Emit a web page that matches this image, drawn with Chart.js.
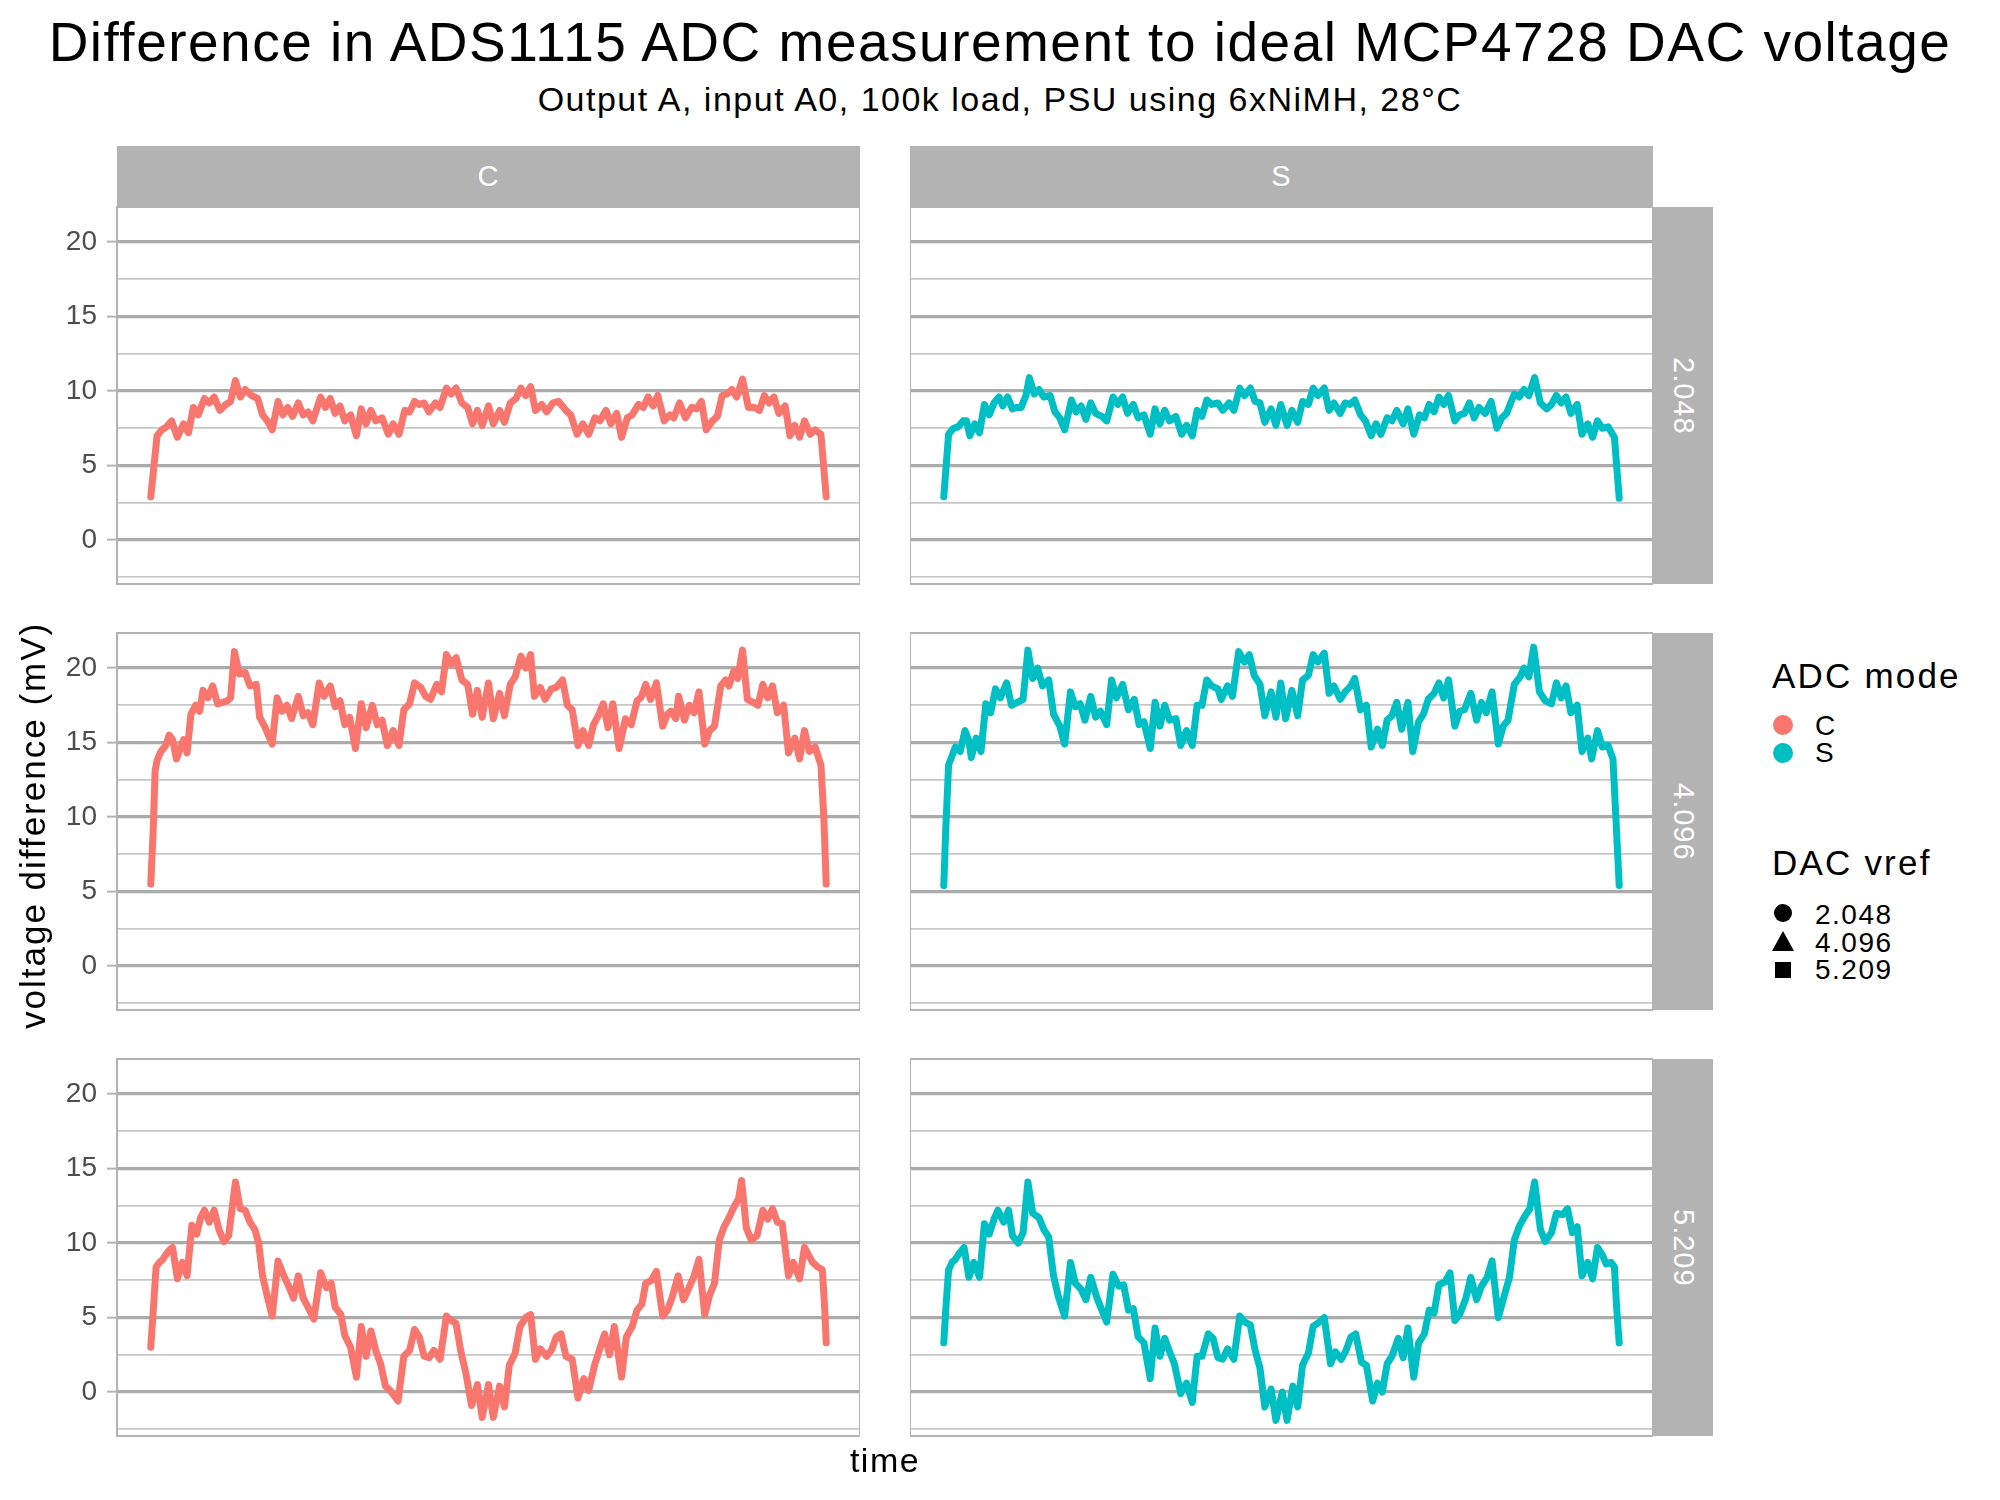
<!DOCTYPE html>
<html>
<head>
<meta charset="utf-8">
<script src="https://cdn.jsdelivr.net/npm/chart.js@4.4.1/dist/chart.umd.min.js"></script>
<style>
  html, body { margin: 0; padding: 0; background: #fff; }
  body { width: 2000px; height: 1500px; position: relative; overflow: hidden;
         font-family: 'Liberation Sans', Arial, sans-serif; color: #000; }
  .txt { position: absolute; white-space: nowrap; line-height: 1; }
  .strip { position: absolute; background: #b3b3b3; color: #fff; font-size: 29px; letter-spacing: 1px;
           display: flex; align-items: center; justify-content: center; }
  .vstrip { writing-mode: vertical-rl; }
  canvas { position: absolute; }
  .key { position: absolute; width: 24px; height: 24px; }
  .lab { font-size: 28px; letter-spacing: 1.5px; }
  .ltitle { font-size: 35px; letter-spacing: 2.2px; }
</style>
</head>
<body>
<div class="txt" style="left:0;width:2000px;text-align:center;top:15px;font-size:55px;letter-spacing:1.5px;">Difference in ADS1115 ADC measurement to ideal MCP4728 DAC voltage</div>
<div class="txt" style="left:0;width:2000px;text-align:center;top:82px;font-size:34px;letter-spacing:1.5px;">Output A, input A0, 100k load, PSU using 6xNiMH, 28°C</div>

<div class="strip" style="left:117px;top:146px;width:743px;height:61px;">C</div>
<div class="strip" style="left:910px;top:146px;width:743px;height:61px;">S</div>
<div class="strip vstrip" style="left:1653px;top:207px;width:60px;height:377px;">2.048</div>
<div class="strip vstrip" style="left:1653px;top:633px;width:60px;height:377px;">4.096</div>
<div class="strip vstrip" style="left:1653px;top:1059px;width:60px;height:377px;">5.209</div>

<canvas id="c2048" width="860" height="467" style="left:0;top:162px;"></canvas>
<canvas id="s2048" width="743" height="467" style="left:910px;top:162px;"></canvas>
<canvas id="c4096" width="860" height="467" style="left:0;top:588px;"></canvas>
<canvas id="s4096" width="743" height="467" style="left:910px;top:588px;"></canvas>
<canvas id="c5209" width="860" height="467" style="left:0;top:1014px;"></canvas>
<canvas id="s5209" width="743" height="467" style="left:910px;top:1014px;"></canvas>

<div class="txt" style="left:0;width:66px;top:420px;height:810px;font-size:35px;letter-spacing:2px;writing-mode:vertical-rl;transform:rotate(180deg);display:flex;align-items:center;justify-content:center;">voltage difference (mV)</div>
<div class="txt" style="left:117px;width:1536px;text-align:center;top:1443px;font-size:34px;letter-spacing:1.5px;">time</div>

<div class="txt ltitle" style="left:1772px;top:658px;">ADC mode</div>
<svg class="key" style="left:1771px;top:713px;"><circle cx="12" cy="12" r="10" fill="#F8766D"/></svg>
<div class="txt lab" style="left:1815px;top:712px;">C</div>
<svg class="key" style="left:1771px;top:741px;"><circle cx="12" cy="12" r="10" fill="#00BFC4"/></svg>
<div class="txt lab" style="left:1815px;top:739px;">S</div>

<div class="txt ltitle" style="left:1772px;top:845px;">DAC vref</div>
<svg class="key" style="left:1771px;top:901px;"><circle cx="12" cy="12" r="9" fill="#000"/></svg>
<div class="txt lab" style="left:1815px;top:901px;">2.048</div>
<svg class="key" style="left:1771px;top:930px;"><polygon points="12,1 23,21 1,21" fill="#000"/></svg>
<div class="txt lab" style="left:1815px;top:929px;">4.096</div>
<svg class="key" style="left:1771px;top:958px;"><rect x="4" y="4" width="16" height="16" fill="#000"/></svg>
<div class="txt lab" style="left:1815px;top:956px;">5.209</div>

<script>
// ADC mode C, DAC vref 2.048
const tC2048 = [67,80,90,100,110,122,135,145,155,165,
  178,188,198,210,222,232,242,252,262,275,
  288,298,308,318,330,340,350,360,372,382,
  392,402,418,428,438,448,458,468,480,492,
  502,512,522,532,545,558,568,580,592,602,
  612,622,632,642,655,665,678,688,698,710,
  722,732,742,752,765,775,788,798,810,822,
  832,842,852,862,875,885,898,910,925,935,
  948,960,972,985,995,1008,1018,1030,1040,1052,
  1062,1075,1085,1095,1105,1115,1128,1140,1148,1160,
  1172,1185,1195,1205,1215,1228,1238,1248,1258,1268,
  1278,1290,1302,1315,1325,1335,1345,1355,1365,1378,
  1388,1398,1408,1418,1430,1440,1452,1463];
const vC2048 = [2.9,7.0,7.4,7.6,8.0,6.9,7.8,7.2,8.9,8.4,
  9.5,9.2,9.6,8.7,9.1,9.3,10.7,9.6,10.1,9.7,
  9.5,8.4,8.0,7.4,9.3,8.4,8.9,8.3,9.2,8.4,
  8.6,8.0,9.6,8.9,9.5,8.5,9.0,8.0,8.4,7.0,
  8.8,7.8,8.7,8.0,8.2,7.1,7.8,7.1,8.7,8.6,
  9.3,9.1,9.2,8.6,9.2,8.9,10.2,9.8,10.2,9.2,
  8.9,7.8,8.7,7.7,9.0,7.8,8.7,7.9,9.2,9.5,
  10.2,9.7,10.3,8.7,9.1,8.6,9.2,9.3,8.7,8.4,
  7.1,7.8,7.1,8.2,8.0,8.7,7.8,8.5,6.9,8.2,
  8.4,9.1,8.9,9.6,9.0,9.7,8.0,8.4,8.2,9.2,
  8.2,8.9,8.8,9.3,7.4,8.0,8.3,9.7,9.8,10.1,
  9.6,10.8,8.9,8.9,8.7,9.7,9.2,9.6,8.5,9.0,
  7.0,7.7,6.9,8.0,7.1,7.4,7.1,2.9];

// ADC mode C, DAC vref 4.096
const tC4096 = [67,72,76,80,88,98,105,112,120,128,
  135,142,150,160,168,175,185,195,205,215,
  225,232,240,250,262,272,285,292,302,318,
  328,338,348,358,372,382,392,402,415,425,
  438,448,458,468,478,490,502,512,525,535,
  545,556,568,580,590,602,612,625,635,645,
  658,668,678,688,698,710,722,732,742,752,
  765,775,788,798,810,820,832,842,852,860,
  872,882,895,905,918,928,938,950,960,972,
  982,992,1002,1012,1022,1035,1048,1060,1072,1080,
  1090,1100,1112,1125,1135,1142,1152,1158,1170,1180,
  1190,1200,1212,1222,1232,1245,1255,1262,1272,1280,
  1290,1300,1312,1322,1332,1342,1352,1362,1375,1385,
  1398,1408,1418,1428,1440,1452,1458,1463];
const vC4096 = [5.5,9.1,13.1,13.8,14.4,14.8,15.5,15.2,13.9,14.6,
  15.2,14.3,16.9,17.5,17.1,18.5,18.0,18.8,17.6,17.7,
  17.8,18.0,21.1,19.6,19.7,18.8,18.9,16.7,16.1,14.9,
  18.0,17.1,17.5,16.6,18.1,16.8,17.0,16.2,19.0,18.1,
  18.8,17.4,17.8,16.2,16.7,14.6,17.6,16.0,17.5,16.2,
  16.5,14.8,15.8,14.8,17.2,17.6,19.0,18.7,18.1,17.9,
  18.9,18.4,20.9,20.3,20.7,19.2,18.9,16.9,18.5,16.7,
  19.0,16.6,18.3,16.8,18.9,19.4,20.8,20.0,20.9,18.1,
  18.7,17.9,18.6,18.7,19.2,17.5,17.2,14.8,15.8,14.8,
  16.2,16.8,17.6,16.0,17.6,14.6,16.6,16.2,17.8,18.0,
  18.9,17.9,19.0,16.1,16.9,17.1,16.6,18.1,16.5,17.5,
  17.0,18.4,14.9,15.8,16.1,18.8,19.2,18.8,19.8,19.3,
  21.2,17.9,17.7,17.5,18.9,18.0,18.8,17.0,17.5,14.3,
  15.3,13.9,15.8,14.4,14.7,13.5,10.0,5.5];

// ADC mode C, DAC vref 5.209
const tC5209 = [67,72,78,85,92,98,105,112,122,132,
  142,152,162,170,178,188,198,208,218,228,
  242,252,262,272,282,290,298,308,318,330,
  342,352,362,372,382,392,404,418,430,440,
  448,460,468,480,492,502,512,522,532,542,
  552,562,578,590,602,612,622,632,642,652,
  665,678,688,698,708,718,730,742,752,765,
  775,788,798,808,820,830,842,852,862,872,
  885,895,905,915,925,938,950,962,972,985,
  995,1005,1015,1025,1040,1050,1062,1072,1082,1090,
  1102,1112,1125,1135,1145,1157,1168,1178,1190,1200,
  1212,1222,1232,1242,1252,1262,1272,1282,1288,1298,
  1308,1320,1332,1342,1352,1362,1372,1385,1395,1408,
  1418,1428,1435,1445,1455,1460,1463];
const vC5209 = [3.0,5.4,8.4,8.7,8.9,9.2,9.5,9.7,7.6,8.7,
  7.8,11.2,10.6,11.7,12.2,11.4,12.2,10.9,10.1,10.5,
  14.1,12.3,12.2,11.4,10.9,10.0,7.8,6.4,5.1,8.8,
  7.8,7.1,6.3,7.8,6.3,5.7,4.9,8.0,7.0,7.3,
  5.7,5.2,3.8,3.0,1.0,4.4,2.4,4.1,2.8,1.9,
  0.4,0.1,-0.6,2.4,2.8,4.2,3.7,2.4,2.3,2.8,
  2.2,5.1,4.8,4.6,2.7,1.3,-0.9,0.5,-1.7,0.5,
  -1.7,0.4,-1.0,1.8,2.6,4.4,5.0,5.2,2.2,2.9,
  2.4,2.8,3.7,3.9,2.4,2.2,-0.4,0.9,0.1,1.9,
  2.9,3.9,2.5,4.4,1.0,3.7,4.4,5.5,5.9,7.3,
  7.5,8.1,5.1,5.5,6.4,7.8,6.2,6.9,7.8,8.9,
  5.2,6.5,7.3,10.2,11.1,11.7,12.4,13.0,14.2,11.0,
  10.2,10.5,12.2,11.6,12.3,11.4,11.3,7.8,8.7,7.6,
  9.7,9.1,8.7,8.4,8.2,5.5,3.3];

// ADC mode S, DAC vref 2.048
const tS2048 = [58,68,78,88,98,105,112,122,132,142,
  152,162,172,180,190,200,210,218,228,235,
  245,255,265,278,288,298,308,322,332,342,
  352,362,372,385,395,408,418,428,438,450,
  460,472,485,495,505,515,525,538,550,560,
  572,582,592,602,612,625,635,648,658,670,
  680,692,702,712,722,735,745,755,768,778,
  790,800,812,822,832,845,855,865,878,888,
  898,908,920,930,942,952,962,975,985,995,
  1008,1018,1030,1042,1052,1062,1072,1082,1092,1102,
  1115,1125,1135,1145,1155,1165,1178,1190,1202,1212,
  1222,1238,1248,1258,1268,1280,1292,1305,1315,1325,
  1335,1345,1355,1368,1378,1390,1400,1410,1420,1432,
  1445,1455];
const vS2048 = [2.9,7.1,7.5,7.6,8.0,8.0,7.0,7.8,7.2,9.1,
  8.4,9.2,9.6,9.0,9.6,8.8,8.9,8.9,9.7,10.9,
  9.8,10.1,9.6,9.7,8.6,8.2,7.4,9.4,8.6,9.0,
  8.1,9.2,8.5,8.3,8.0,9.6,9.1,9.6,8.5,9.1,
  8.2,8.4,7.1,8.8,7.8,8.7,8.0,8.3,7.1,7.7,
  7.0,8.7,8.3,9.4,9.1,9.2,8.7,9.2,8.7,10.2,
  9.7,10.2,9.3,9.2,7.9,8.8,7.7,9.1,7.7,8.7,
  7.9,9.3,9.1,10.2,9.7,10.2,8.7,9.2,8.5,9.2,
  9.1,9.4,8.4,8.0,7.0,7.8,7.1,8.2,8.0,8.7,
  7.8,8.8,7.1,8.4,8.2,9.1,8.6,9.6,9.1,9.7,
  8.0,8.4,8.5,9.2,8.2,8.9,8.5,9.3,7.5,8.2,
  8.5,9.8,9.6,10.1,9.7,10.9,9.2,8.8,9.1,9.7,
  9.2,9.6,8.5,9.1,7.1,7.8,6.9,8.0,7.5,7.6,
  6.9,2.8];

// ADC mode S, DAC vref 4.096
const tS4096 = [58,62,68,75,82,92,102,110,115,125,
  135,145,155,165,175,188,198,210,222,232,
  242,252,262,275,285,298,308,320,330,340,
  350,362,372,382,395,405,415,428,440,452,
  462,472,485,495,505,515,525,538,548,560,
  572,582,592,602,612,625,632,645,655,668,
  680,690,700,712,722,735,745,755,765,778,
  790,800,812,822,832,845,855,865,878,888,
  900,908,920,932,942,955,965,975,985,995,
  1005,1018,1028,1040,1050,1060,1072,1082,1092,1102,
  1115,1125,1135,1148,1160,1170,1180,1192,1205,1215,
  1225,1238,1250,1258,1268,1278,1290,1302,1315,1325,
  1335,1345,1355,1368,1378,1390,1398,1410,1420,1432,
  1442,1448,1455];
const vS4096 = [5.4,9.1,13.5,14.1,14.7,14.4,15.8,15.1,14.0,15.3,
  14.4,17.6,17.0,18.6,18.0,19.0,17.5,17.7,17.9,21.2,
  19.3,20.0,18.8,19.2,16.9,16.1,14.9,18.4,17.4,17.6,
  16.5,18.1,16.7,17.1,16.2,19.2,18.0,18.9,17.2,17.9,
  16.2,16.4,14.6,17.7,16.1,17.5,16.5,16.6,14.8,15.8,
  14.8,17.5,17.5,19.2,18.8,18.6,17.9,18.8,18.1,21.1,
  20.4,20.9,19.5,18.9,16.8,18.4,16.7,19.0,16.6,18.5,
  16.8,19.2,19.5,20.9,20.4,21.0,18.3,18.8,17.9,18.4,
  18.8,19.3,17.2,17.5,14.7,15.9,14.8,16.5,16.8,17.7,
  15.9,17.7,14.4,16.4,16.9,17.9,18.3,19.0,18.0,19.2,
  16.1,17.1,17.2,18.3,16.5,17.7,17.0,18.4,14.9,16.1,
  16.5,18.9,19.4,20.0,19.4,21.4,18.4,17.8,17.6,19.0,
  18.0,18.8,17.0,17.5,14.4,15.3,13.9,15.8,14.7,14.8,
  13.9,10.0,5.4];

// ADC mode S, DAC vref 5.209
const tS5209 = [58,62,68,75,82,90,100,110,120,132,
  142,152,162,170,182,192,200,212,222,232,
  242,255,265,275,285,295,308,320,330,342,
  352,362,375,385,395,408,420,430,440,450,
  460,472,485,495,505,515,525,535,548,560,
  572,582,592,605,615,625,635,645,658,670,
  680,692,702,712,722,735,745,758,768,780,
  790,800,812,822,835,845,858,868,880,890,
  900,910,922,932,945,955,965,975,985,998,
  1008,1018,1030,1040,1052,1062,1072,1082,1095,1105,
  1115,1125,1138,1148,1160,1170,1182,1192,1205,1215,
  1228,1238,1248,1258,1270,1280,1292,1302,1315,1325,
  1338,1348,1358,1368,1378,1390,1400,1410,1420,1428,
  1438,1445,1450,1455];
const vS5209 = [3.3,5.5,8.2,8.7,8.9,9.3,9.7,7.7,8.7,7.7,
  11.3,10.6,11.6,12.2,11.4,12.2,10.5,10.0,10.7,14.1,
  12.0,11.7,10.9,10.4,7.8,6.4,5.1,8.7,7.3,6.9,
  6.2,7.7,6.3,5.5,4.7,7.9,7.1,7.2,5.5,5.6,
  3.7,3.3,0.9,4.3,2.4,3.6,2.7,1.9,-0.1,0.6,
  -0.7,2.4,2.4,3.9,3.6,2.3,2.2,2.9,2.2,5.1,
  4.7,4.5,2.8,1.6,-1.0,0.2,-1.9,0.0,-1.9,0.4,
  -1.0,1.8,2.6,4.4,4.7,5.0,1.9,2.7,2.2,2.8,
  3.7,3.9,2.0,1.8,-0.6,0.6,0.0,1.9,2.4,3.6,
  2.3,4.3,1.0,3.3,3.9,5.5,5.3,7.2,7.4,8.0,
  4.8,5.2,6.3,7.7,6.2,7.1,7.7,8.8,5.0,6.2,
  7.7,10.2,11.1,11.7,12.3,14.1,10.9,10.1,10.7,12.0,
  11.9,12.3,10.7,11.1,7.8,8.7,7.6,9.7,9.2,8.6,
  8.7,8.4,5.5,3.3];

const yTicks = [0, 5, 10, 15, 20];
const colC = '#F8766D';
const colS = '#00BFC4';
const FONT = "'Liberation Sans', Arial, sans-serif";

// ggplot-like panel border drawn on top of everything
const panelBorder = {
  id: 'panelBorder',
  afterDraw(chart) {
    const a = chart.chartArea, ctx = chart.ctx;
    ctx.save();
    ctx.strokeStyle = '#b3b3b3';
    ctx.lineWidth = 2;
    ctx.strokeRect(a.left, a.top, a.right - a.left, a.bottom - a.top);
    ctx.restore();
  }
};

function isMajor(v) {
  return yTicks.includes(v);
}

function makePanel(id, times, values, color, showAxis) {
  const pts = times.map((t, i) => ({ x: t, y: values[i] }));
  const lo = Math.min(...times), hi = Math.max(...times);
  const pad = (hi - lo) * 0.05;
  new Chart(document.getElementById(id), {
    type: 'line',
    data: {
      datasets: [{
        data: pts,
        borderColor: color,
        borderWidth: 7,
        pointRadius: 0,
        tension: 0,
        borderJoinStyle: 'round',
        borderCapStyle: 'round'
      }]
    },
    options: {
      responsive: false,
      animation: false,
      devicePixelRatio: 1,
      layout: { padding: { top: 45, bottom: 45, left: 0, right: 0 } },
      plugins: { legend: { display: false }, tooltip: { enabled: false } },
      scales: {
        x: { type: 'linear', display: false, min: lo - pad, max: hi + pad },
        y: {
          min: -2.95,
          max: 22.35,
          afterFit: s => { s.width = showAxis ? 117 : 0; },
          border: { display: false },
          ticks: {
            display: showAxis,
            stepSize: 2.5,
            includeBounds: false,
            autoSkip: false,
            padding: 10,
            color: '#4d4d4d',
            font: { family: FONT, size: 28 },
            callback: v => isMajor(v) ? String(v) : ''
          },
          grid: {
            drawTicks: showAxis,
            tickLength: 10,
            color: c => isMajor(c.tick.value) ? '#ababab' : '#c8c8c8',
            lineWidth: c => isMajor(c.tick.value) ? 3.3 : 1.7,
            tickColor: c => isMajor(c.tick.value) ? '#b3b3b3' : 'rgba(0,0,0,0)',
            tickWidth: 2
          }
        }
      }
    },
    plugins: [panelBorder]
  });
}

makePanel('c2048', tC2048, vC2048, colC, true);
makePanel('s2048', tS2048, vS2048, colS, false);
makePanel('c4096', tC4096, vC4096, colC, true);
makePanel('s4096', tS4096, vS4096, colS, false);
makePanel('c5209', tC5209, vC5209, colC, true);
makePanel('s5209', tS5209, vS5209, colS, false);
</script>
</body>
</html>
